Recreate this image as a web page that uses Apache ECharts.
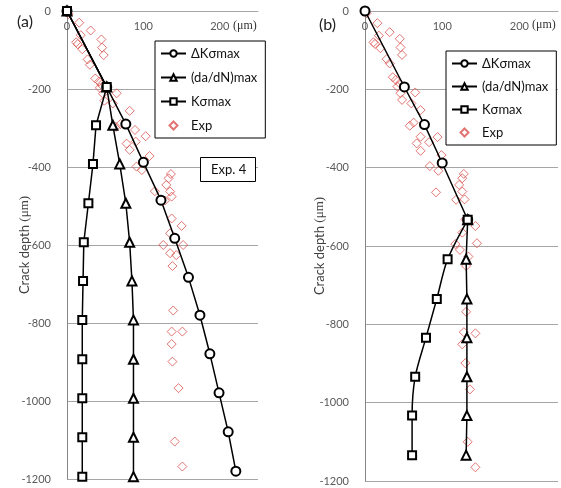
<!DOCTYPE html>
<html>
<head>
<meta charset="utf-8">
<script src="https://cdn.jsdelivr.net/npm/echarts@6/dist/echarts.min.js"></script>
<style>
html, body { margin: 0; padding: 0; background: #fff; }
#main { width: 561px; height: 488px; }
</style>
</head>
<body>
<div id="main"></div>
<script>
// tick labels
var xTicks = [0, 100, 200];
var yTicks = [0, -200, -400, -600, -800, -1000, -1200];
var names = ["ΔKσmax", "(da/dN)max", "Kσmax", "Exp"];

// (a) model curves: width (um) against crack depth (um)
var aDkDepth = [0, -195, -290, -388, -485, -583, -683, -780, -879, -979, -1079, -1180];
var aDk      = [0, 52, 77, 100, 123, 141, 159, 174, 187, 199, 211, 221];
var aDepth   = [0, -195, -293, -392, -493, -593, -692, -792, -893, -993, -1093, -1194];
var aDadn    = [0, 52, 60, 69, 77, 82, 85, 87, 87, 87, 87, 87];
var aKs      = [0, 52, 38, 34, 28, 22, 21, 20, 20, 20, 20, 20];

// (b) model curves
var bDkDepth = [0, -194, -290, -388, -533];
var bDk      = [0, 51, 77, 100, 133];
var bDepth   = [-533, -634, -735, -834, -934, -1033, -1134];
var bDadn    = [133, 131, 132, 132, 132, 132, 131];
var bKs      = [133, 107, 93, 79, 65, 61, 61];

// experimental points [width, depth], panel (a)
var expA = [
  [2, -8], [16, -30], [31, -50], [18, -62], [45, -73], [12, -80], [14, -85], [46, -94],
  [20, -98], [48, -113], [27, -124], [30, -138], [37, -173], [42, -181], [45, -189], [43, -197],
  [65, -211], [47, -212], [49, -230], [60, -237], [82, -256], [70, -290], [64, -297], [89, -305],
  [103, -321], [90, -335], [78, -340], [82, -356], [108, -372], [91, -399], [98, -408], [136, -418],
  [133, -429], [130, -446], [115, -462], [135, -463], [137, -476], [128, -486], [137, -532], [150, -551],
  [135, -570], [152, -600], [126, -600], [135, -621], [143, -626], [138, -654], [139, -768], [137, -822],
  [151, -822], [137, -854], [138, -899], [146, -967], [141, -1104], [151, -1168]
];

// experimental points [width, depth], panel (b)
var expB = [
  [2, -6], [16, -31], [32, -54], [18, -63], [45, -71], [11, -80], [13, -84], [46, -93],
  [20, -95], [48, -112], [28, -123], [32, -134], [36, -169], [40, -176], [45, -185], [42, -193],
  [65, -208], [46, -210], [48, -227], [60, -236], [72, -253], [63, -285], [58, -293], [72, -321],
  [94, -322], [67, -338], [83, -335], [72, -357], [99, -368], [84, -396], [95, -408], [128, -416],
  [126, -427], [122, -444], [92, -463], [126, -461], [118, -482], [129, -481], [130, -532], [143, -549],
  [126, -566], [145, -593], [117, -595], [123, -610], [134, -627], [131, -651], [131, -768], [128, -820],
  [143, -823], [126, -851], [130, -899], [136, -966], [133, -1100], [143, -1165]
];

function pairs(xs, ys) {
  return xs.map(function (x, i) { return [x, ys[i]]; });
}

var textFont = 'Lato, "Noto Sans", sans-serif';
var serifFont = '"Liberation Serif", "DejaVu Serif", serif';
var diamondIcon = 'path://M5,0L10,5L5,10L0,5Z';

function xAxisFor(i) {
  return {
    type: 'value', gridIndex: i, position: 'top',
    min: 0, max: 250, interval: 100,
    axisLine: { show: true, onZero: false, lineStyle: { color: '#a6a6a6' } },
    axisTick: { show: false },
    axisLabel: {
      inside: true, margin: 10, color: '#595959', fontSize: 11, fontFamily: textFont,
      formatter: function (v) { return xTicks.indexOf(v) >= 0 ? String(v) : ''; }
    },
    splitLine: { show: false }
  };
}

function yAxisFor(i, gap) {
  return {
    type: 'value', gridIndex: i, min: -1200, max: 0, interval: 200,
    name: '{a|Crack depth }{b|(μm)}', nameLocation: 'middle', nameGap: gap,
    nameMoveOverlap: false,
    nameTextStyle: {
      rich: {
        a: { fontFamily: textFont, fontSize: 13, color: '#404040' },
        b: { fontFamily: serifFont, fontSize: 13, color: '#404040' }
      }
    },
    axisLine: { show: true, lineStyle: { color: '#868686' } },
    axisTick: { show: false },
    axisLabel: {
      margin: 16, color: '#595959', fontSize: 11, fontFamily: textFont,
      formatter: function (v) { return yTicks.indexOf(v) >= 0 ? String(v) : ''; }
    },
    splitLine: { show: true, lineStyle: { color: '#a6a6a6' } }
  };
}

function lineSeries(name, sym, size, data, i, smooth) {
  return {
    name: name, type: 'line', xAxisIndex: i, yAxisIndex: i,
    data: data, symbol: sym, symbolSize: size, smooth: smooth || false,
    lineStyle: { color: '#000', width: 1.5 },
    itemStyle: { color: '#000', borderWidth: 1 },
    z: 3
  };
}

function expSeries(data, i) {
  return {
    name: 'Exp', type: 'scatter', xAxisIndex: i, yAxisIndex: i,
    data: data, symbol: 'diamond', symbolSize: 9,
    itemStyle: { color: 'rgba(0,0,0,0)', borderColor: '#d9534f', borderWidth: 1 },
    z: 2
  };
}

function legendAt(left, top, gap) {
  return {
    left: left, top: top, orient: 'vertical',
    data: names.map(function (n) { return n === 'Exp' ? { name: n, icon: diamondIcon } : n; }),
    backgroundColor: '#fff', borderColor: '#000', borderWidth: 1,
    padding: [6, 8, 6, 5], itemGap: gap, itemWidth: 25, itemHeight: 8,
    textStyle: { fontFamily: textFont, fontSize: 13, color: '#111' }
  };
}

function unitText(x, y) {
  return {
    type: 'text', left: x, top: y, silent: true,
    style: { text: '(μm)', font: '12px "Liberation Serif", serif', fill: '#333' }
  };
}

var chart = echarts.init(document.getElementById('main'));
var option = {
  animation: false,
  backgroundColor: '#fff',
  title: [
    { text: '(a)', left: 12, top: 9, textStyle: { fontFamily: textFont, fontSize: 16, fontWeight: 'normal', color: '#222' } },
    { text: '(b)', left: 314, top: 12, textStyle: { fontFamily: textFont, fontSize: 16, fontWeight: 'normal', color: '#222' } },
    {
      text: 'Exp. 4', left: 200, top: 157, borderWidth: 1, borderColor: '#000', backgroundColor: '#fff',
      padding: [6, 10, 6, 11], textStyle: { fontFamily: textFont, fontSize: 13, fontWeight: 'normal', color: '#111' }
    }
  ],
  graphic: [unitText(233, 20), unitText(532, 19)],
  legend: [legendAt(155, 41, 11), legendAt(446, 51, 10)],
  grid: [
    { left: 67, top: 11, width: 191, height: 468 },
    { left: 365, top: 11, width: 194, height: 470 }
  ],
  xAxis: [xAxisFor(0), xAxisFor(1)],
  yAxis: [yAxisFor(0, 36), yAxisFor(1, 39)],
  series: [
    expSeries(expA, 0),
    lineSeries('ΔKσmax', 'emptyCircle', 9, pairs(aDk, aDkDepth), 0),
    lineSeries('(da/dN)max', 'emptyTriangle', 9, pairs(aDadn, aDepth), 0),
    lineSeries('Kσmax', 'emptyRect', 8, pairs(aKs, aDepth), 0),
    expSeries(expB, 1),
    lineSeries('ΔKσmax', 'emptyCircle', 9, pairs(bDk, bDkDepth), 1),
    lineSeries('(da/dN)max', 'emptyTriangle', 9, pairs(bDadn, bDepth), 1),
    lineSeries('Kσmax', 'emptyRect', 8, pairs(bKs, bDepth), 1, 0.3)
  ]
};
chart.setOption(option);
window.addEventListener('resize', chart.resize);
</script>
</body>
</html>
